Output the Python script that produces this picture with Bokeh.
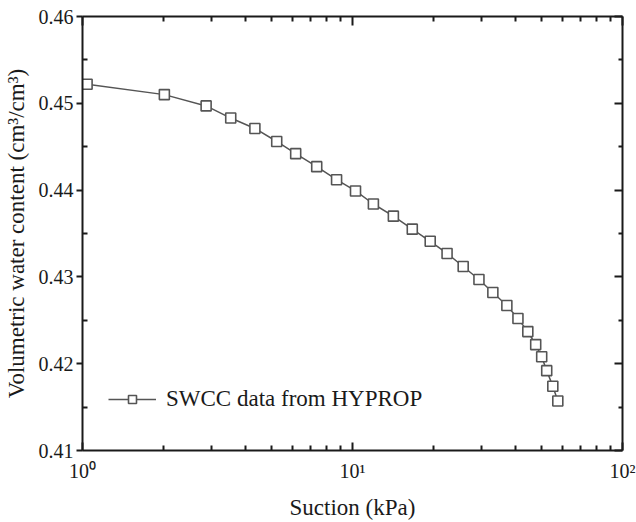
from bokeh.plotting import figure
from bokeh.models import (FixedTicker, LogAxis, LinearAxis, Legend, LegendItem,
                          ColumnDataSource)
from bokeh.embed import file_html
from bokeh.resources import INLINE

# Data
suction_kpa = [1.04, 2.01, 2.87, 3.54, 4.35, 5.24, 6.16, 7.37, 8.73, 10.26,
               11.95, 14.17, 16.65, 19.4, 22.4, 25.7, 29.4, 33.1, 37.3, 41.0,
               44.6, 47.7, 50.2, 52.4, 55.2, 57.6]
water_content = [0.4522, 0.4510, 0.4497, 0.4483, 0.4471, 0.4456, 0.4442, 0.4427,
                 0.4412, 0.4399, 0.4384, 0.4370, 0.4355, 0.4341, 0.4327, 0.4312,
                 0.4297, 0.4282, 0.4267, 0.4252, 0.4237, 0.4222, 0.4208, 0.4192,
                 0.4174, 0.4157]

x_major = [1, 10, 100]
x_major_labels = {1: "10\u2070", 10: "10\u00b9", 100: "10\u00b2"}
x_minor = [2, 3, 4, 5, 6, 7, 8, 9, 20, 30, 40, 50, 60, 70, 80, 90]
y_major = [0.41, 0.42, 0.43, 0.44, 0.45, 0.46]
y_minor = [0.415, 0.425, 0.435, 0.445, 0.455]
y_labels = {v: f"{v:.2f}" for v in y_major}

series_label = "SWCC data from HYPROP"
x_title = "Suction (kPa)"
y_title = "Volumetric water content (cm\u00b3/cm\u00b3)"

FONT = "Liberation Serif"
INK = "#1a1a1a"
LINE = "#555555"

p = figure(width=636, height=522, x_axis_type="log", x_range=(1, 100),
           y_range=(0.41, 0.46), output_backend="svg", toolbar_location=None,
           x_axis_location=None, y_axis_location=None,
           min_border_left=81, min_border_right=14, min_border_top=16,
           min_border_bottom=69)
p.outline_line_color = None
p.grid.visible = False

src = ColumnDataSource(dict(x=suction_kpa, y=water_content))
ln = p.line("x", "y", source=src, line_color=LINE, line_width=1.5)
mk = p.scatter("x", "y", source=src, marker="square", size=10,
               line_color=LINE, line_width=1.6, fill_color="white")

def style(ax):
    ax.axis_line_color = INK
    ax.axis_line_width = 2
    ax.major_tick_line_color = INK
    ax.minor_tick_line_color = INK
    ax.major_tick_line_width = 2
    ax.minor_tick_line_width = 2
    ax.major_label_text_font = FONT
    ax.major_label_text_color = INK
    ax.axis_label_text_font = FONT
    ax.axis_label_text_font_style = "normal"
    ax.axis_label_text_color = INK

xa = LogAxis(ticker=FixedTicker(ticks=x_major, minor_ticks=x_minor))
xa.major_label_overrides = x_major_labels
style(xa)
xa.major_tick_in = 8
xa.major_tick_out = 0
xa.minor_tick_in = 5
xa.minor_tick_out = 0
xa.major_label_text_font_size = "20px"
xa.major_label_standoff = 9
xa.axis_label = x_title
xa.axis_label_text_font_size = "23px"
xa.axis_label_standoff = 10
p.add_layout(xa, "below")

ya = LinearAxis(ticker=FixedTicker(ticks=y_major, minor_ticks=y_minor))
ya.major_label_overrides = y_labels
style(ya)
ya.major_tick_in = 0
ya.major_tick_out = 6
ya.minor_tick_in = 5
ya.minor_tick_out = 0
ya.major_label_text_font_size = "20px"
ya.major_label_standoff = 3
ya.axis_label = y_title
ya.axis_label_text_font_size = "23px"
ya.axis_label_standoff = 7
p.add_layout(ya, "left")

top = LogAxis(ticker=FixedTicker(ticks=x_major, minor_ticks=x_minor))
style(top)
top.major_tick_in = 9
top.major_tick_out = 0
top.minor_tick_in = 5
top.minor_tick_out = 0
top.major_label_text_font_size = "1px"
top.major_label_standoff = 0
top.major_label_overrides = {1: "", 10: "", 100: ""}
p.add_layout(top, "above")

right = LinearAxis(ticker=FixedTicker(ticks=y_major, minor_ticks=y_minor))
style(right)
right.major_tick_in = 8
right.major_tick_out = 0
right.minor_tick_in = 4
right.minor_tick_out = 0
right.major_label_text_font_size = "1px"
right.major_label_standoff = 0
right.major_label_overrides = {v: "" for v in y_major}
p.add_layout(right, "right")

legend = Legend(items=[LegendItem(label=series_label, renderers=[ln, mk])],
                location=(26, 38), padding=0, margin=0, spacing=0,
                glyph_width=48, glyph_height=20, label_height=20,
                label_standoff=10, border_line_color=None,
                background_fill_alpha=0,
                label_text_font=FONT, label_text_font_size="23px",
                label_text_color=INK)
p.add_layout(legend, "center")

open("out.html", "w").write(file_html(p, INLINE))
